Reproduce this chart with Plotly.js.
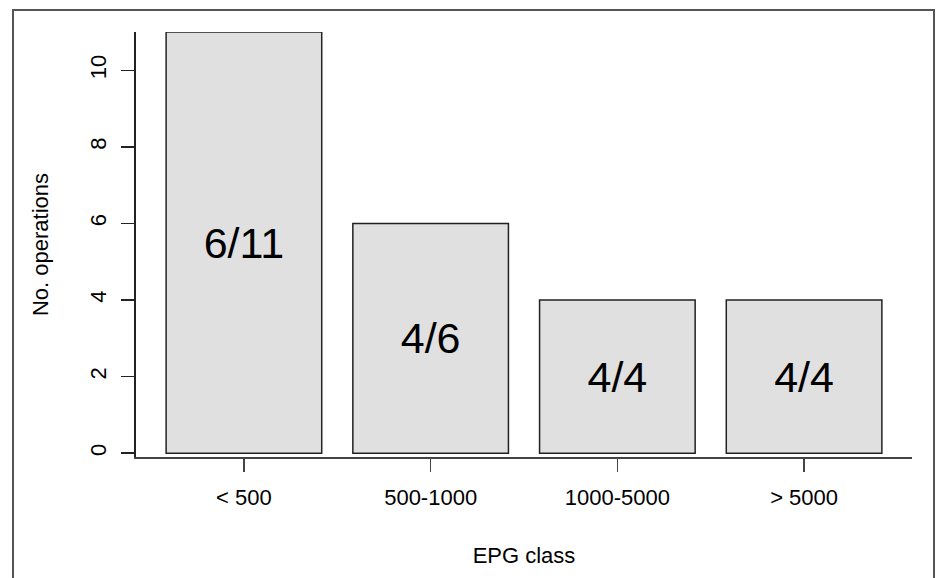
<!DOCTYPE html>
<html>
<head>
<meta charset="utf-8">
<script src="https://cdn.plot.ly/plotly-3.0.1.min.js"></script>
<style>
  html, body { margin: 0; padding: 0; background: #fff; }
  #wrap { position: relative; width: 936px; height: 578px; overflow: hidden; }
  #chart { width: 936px; height: 578px; }
  #frame { position: absolute; left: 12px; top: 9px; width: 919px; height: 620px;
           border: 2px solid #555; pointer-events: none; }
</style>
</head>
<body>
<div id="wrap">
  <div id="chart"></div>
  <div id="frame"></div>
</div>
<script>
const categories = ["< 500", "500-1000", "1000-5000", "> 5000"];
const operations = [11, 6, 4, 4];
const barLabels = ["6/11", "4/6", "4/4", "4/4"];
const yTicks = [0, 2, 4, 6, 8, 10];

const font = "Liberation Sans, Arial, sans-serif";

const trace = {
  type: "bar",
  x: categories,
  y: operations,
  text: barLabels,
  textposition: "inside",
  insidetextanchor: "middle",
  constraintext: "none",
  textangle: 0,
  insidetextfont: { family: font, size: 43, color: "#000" },
  marker: { color: "#e0e0e0", line: { color: "#222", width: 1.5 } },
  hoverinfo: "none"
};

const layout = {
  width: 936, height: 578,
  margin: { l: 136, r: 24, t: 32, b: 121 },
  paper_bgcolor: "#fff", plot_bgcolor: "#fff",
  font: { family: font, size: 22, color: "#000" },
  showlegend: false,
  bargap: 0.1667,
  xaxis: {
    type: "category",
    range: [-0.578, 3.578],
    showgrid: false, zeroline: false,
    showline: true, linecolor: "#444", linewidth: 1.7,
    ticks: "outside", ticklen: 13, tickwidth: 1.5, tickcolor: "#444",
    tickfont: { family: font, size: 22, color: "#000" },
    ticklabelstandoff: 7,
    title: { text: "EPG class", font: { family: font, size: 22, color: "#000" }, standoff: 38 }
  },
  yaxis: {
    range: [-0.1, 11],
    tickvals: yTicks,
    ticktext: yTicks.map(String),
    tickangle: -90,
    showgrid: false, zeroline: false,
    showline: true, linecolor: "#222", linewidth: 1.7,
    ticks: "outside", ticklen: 13, tickwidth: 1.5, tickcolor: "#222",
    tickfont: { family: font, size: 22, color: "#000" },
    ticklabelstandoff: 7,
    title: { text: "No. operations", font: { family: font, size: 22, color: "#000" }, standoff: 31 }
  }
};

Plotly.newPlot("chart", [trace], layout, { staticPlot: true, displayModeBar: false });
</script>
</body>
</html>
